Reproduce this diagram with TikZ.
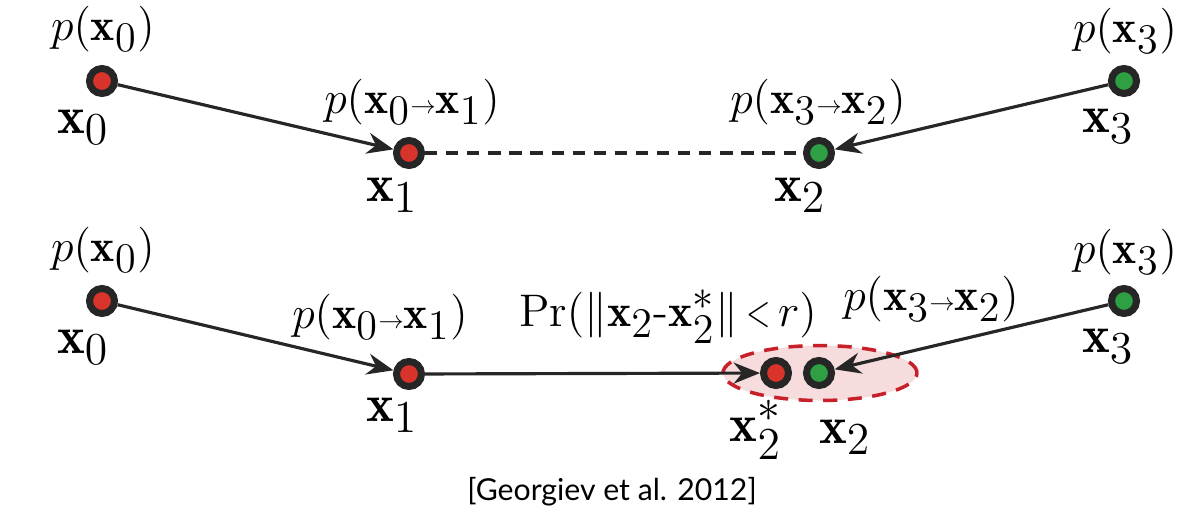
\RequirePackage{fix-cm}
\documentclass[tikz,border=0pt]{standalone}
\usepackage{amsmath}
\usepackage{graphicx}
\usepackage{fontspec}
\newfontfamily\citefont{Lato}
\usetikzlibrary{arrows.meta,shapes.geometric}
\DeclareMathSizes{13}{13}{12}{9}
\DeclareMathSizes{15}{15}{13}{10}
\definecolor{ptred}{HTML}{D9342B}
\definecolor{ptgreen}{HTML}{2EA043}
\definecolor{rimred}{HTML}{C8202A}
\definecolor{zonepink}{HTML}{F6DCDC}
\tikzset{
  pt/.style={circle,draw=black!85,line width=2pt,minimum size=0.25cm,inner sep=0pt},
  redpt/.style={pt,fill=ptred},
  greenpt/.style={pt,fill=ptgreen},
  plab/.style={inner sep=0pt,font=\fontsize{13}{15}\selectfont},
  xlab/.style={inner sep=0pt,font=\fontsize{15}{17}\selectfont},
  edge/.style={line width=0.9pt,black!85,-{Stealth[length=7.5pt,width=6pt]}}
}
\newcommand{\bx}{\mathbf{x}}
\newcommand{\sar}{{\scalebox{0.55}{$\to$}}}
\newcommand{\sless}{{\,\scalebox{0.7}[1]{$<$}\,}}
\begin{document}
\begin{tikzpicture}
  \useasboundingbox (0,0) rectangle (12.04,-5.22);

  % Zona attorno a x2 (sotto)
  \node[ellipse,draw=rimred,dashed,dash pattern=on 4pt off 3pt,line width=1pt,fill=zonepink,
        minimum width=1.94cm,minimum height=0.55cm](zone) at (8.20,-3.73) {};

  % Punti della riga in alto
  \node[redpt](nx0a) at (1.02,-0.81) {};
  \node[redpt](nx1a) at (4.09,-1.53) {};
  \node[greenpt](nx2a) at (8.19,-1.53) {};
  \node[greenpt](nx3a) at (11.24,-0.81) {};

  % Punti della riga in basso
  \node[redpt](nx0b) at (1.02,-3.01) {};
  \node[redpt](nx1b) at (4.09,-3.74) {};
  \node[redpt](nx2sb) at (7.76,-3.73) {};
  \node[greenpt](nx2b) at (8.19,-3.73) {};
  \node[greenpt](nx3b) at (11.24,-3.01) {};

  % Etichette in alto
  \node[plab](px0a) at (1.03,-0.29) {$p(\bx_0)$};
  \node[xlab](lx0a) at (0.83,-1.27) {$\bx_0$};
  \node[plab](px01a) at (4.12,-1.02) {$p(\bx_0\sar\bx_1)$};
  \node[xlab](lx1a) at (3.92,-1.95) {$\bx_1$};
  \node[plab](px32a) at (8.18,-1.02) {$p(\bx_3\sar\bx_2)$};
  \node[xlab](lx2a) at (8.00,-1.95) {$\bx_2$};
  \node[plab](px3a) at (11.25,-0.31) {$p(\bx_3)$};
  \node[xlab](lx3a) at (11.08,-1.26) {$\bx_3$};

  % Etichette in basso
  \node[plab](px0b) at (1.03,-2.50) {$p(\bx_0)$};
  \node[xlab](lx0b) at (0.83,-3.47) {$\bx_0$};
  \node[plab](px01b) at (3.80,-3.17) {$p(\bx_0\sar\bx_1)$};
  \node[xlab](lx1b) at (3.92,-4.15) {$\bx_1$};
  \node[plab](prb) at (6.68,-3.17) {$\mathrm{Pr}(\|\bx_2\text{-}\bx_2^*\|\sless r)$};
  \node[plab](px32b) at (9.31,-2.99) {$p(\bx_3\sar\bx_2)$};
  \node[xlab](lx2sb) at (7.56,-4.30) {$\bx_2^*$};
  \node[xlab](lx2b) at (8.45,-4.37) {$\bx_2$};
  \node[plab](px3b) at (11.25,-2.52) {$p(\bx_3)$};
  \node[xlab](lx3b) at (11.08,-3.46) {$\bx_3$};

  % Collegamenti in alto
  \draw[edge] (nx0a)--(nx1a);
  \draw[edge] (nx3a)--(nx2a);
  \draw[line width=1.1pt,black!85,dash pattern=on 3.5pt off 2.5pt] (nx1a)--(nx2a);

  % Collegamenti in basso
  \draw[edge] (nx0b)--(nx1b);
  \draw[edge] (nx1b)--(nx2sb);
  \draw[edge] (nx3b)--(nx2b);

  % Citazione
  \node[font=\citefont\fontsize{8.6}{10}\selectfont](cite) at (6.12,-4.92) {[Georgiev et al. 2012]};
\end{tikzpicture}
\end{document}
